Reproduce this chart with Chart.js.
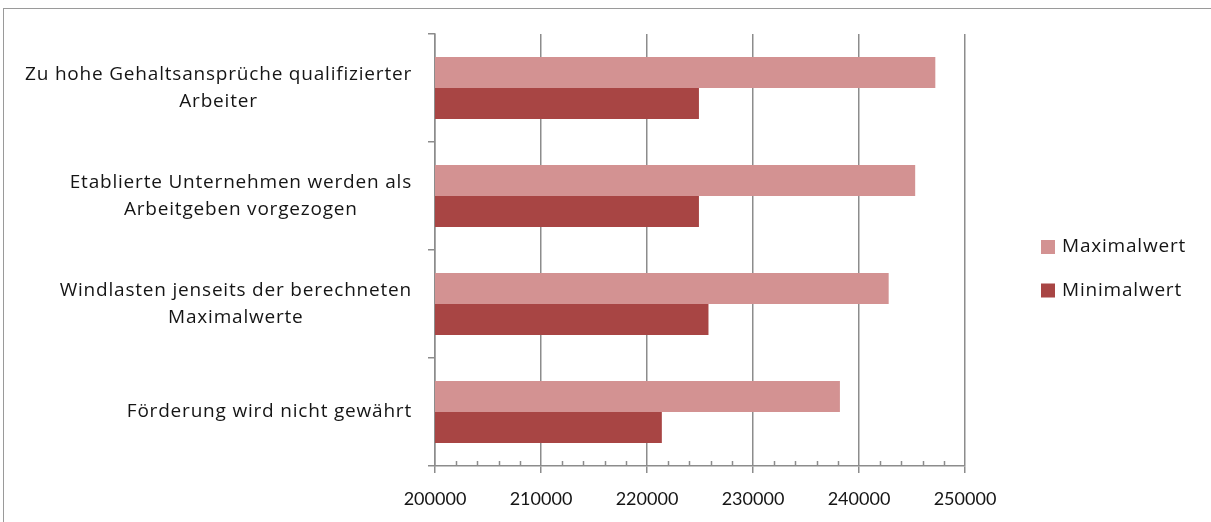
<!DOCTYPE html>
<html lang="de">
<head>
<meta charset="utf-8">
<title>Maximal- und Minimalwert</title>
<script src="https://cdn.jsdelivr.net/npm/chart.js@4.4.1/dist/chart.umd.min.js"></script>
<style>
  html, body { margin: 0; padding: 0; background: #fff; overflow: hidden; }
  #frame {
    position: absolute; left: 3px; top: 8px; width: 1230px; height: 540px;
    border: 1px solid #9a9a9a; box-sizing: border-box;
  }
  #wrap { position: absolute; left: 0; top: 0; width: 1211px; height: 522px; }
</style>
</head>
<body>
<div id="frame"></div>
<div id="wrap"><canvas id="barChart"></canvas></div>
<script>
const categories = [
    ['Zu hohe Gehaltsansprüche qualifizierter', 'Arbeiter'],
    ['Etablierte Unternehmen werden als', 'Arbeitgeben vorgezogen'],
    ['Windlasten jenseits der berechneten', 'Maximalwerte'],
    ['Förderung wird nicht gewährt']
];
const seriesNames = ['Maximalwert', 'Minimalwert'];
const maxValues = [247200, 245300, 242800, 238200];
const minValues = [224900, 224900, 225800, 221400];
const axisMin = 200000;
const axisMax = 250000;
const axisStep = 10000;
const minorStep = 2000;

const gridGrey = '#8c8c8c';
const textColor = '#151515';
const tickFont = 'Lato, "Open Sans", sans-serif';
const labelFont = '"Open Sans", Lato, sans-serif';
const labelSpacing = '0.8px';

// category labels: right-aligned block, lines centred inside the block
const categoryLabels = {
    id: 'categoryLabels',
    afterDraw(chart) {
        const ctx = chart.ctx;
        const yScale = chart.scales.y;
        const rightEdge = chart.chartArea.left - 23;
        const lineHeight = 27;
        ctx.save();
        ctx.font = '19px ' + labelFont;
        ctx.letterSpacing = labelSpacing;
        ctx.fillStyle = textColor;
        ctx.textAlign = 'center';
        ctx.textBaseline = 'middle';
        chart.data.labels.forEach((lines, i) => {
            const y = yScale.getPixelForValue(i);
            const widest = Math.max(...lines.map(l => ctx.measureText(l).width));
            const cx = rightEdge - widest / 2;
            const top = y - (lines.length - 1) * lineHeight / 2;
            lines.forEach((line, j) => ctx.fillText(line, cx, top + j * lineHeight));
        });
        ctx.restore();
    }
};

// small upward ticks between the major x ticks
const minorTicks = {
    id: 'minorTicks',
    afterDraw(chart) {
        const ctx = chart.ctx;
        const xScale = chart.scales.x;
        const bottom = chart.chartArea.bottom;
        ctx.save();
        ctx.strokeStyle = gridGrey;
        ctx.lineWidth = 1.5;
        for (let v = axisMin; v <= axisMax; v += minorStep) {
            if (v % axisStep === 0) continue;
            const x = Math.round(xScale.getPixelForValue(v)) + 0.5;
            ctx.beginPath();
            ctx.moveTo(x, bottom);
            ctx.lineTo(x, bottom - 5);
            ctx.stroke();
        }
        ctx.restore();
    }
};

// legend to the right of the plot
const sideLegend = {
    id: 'sideLegend',
    afterDraw(chart) {
        const ctx = chart.ctx;
        const boxX = 1041;
        const firstY = 247;
        const gap = 43.5;
        ctx.save();
        ctx.font = '19px ' + labelFont;
        ctx.letterSpacing = labelSpacing;
        ctx.textAlign = 'left';
        ctx.textBaseline = 'middle';
        chart.data.datasets.forEach((ds, i) => {
            const y = firstY + i * gap;
            ctx.fillStyle = ds.backgroundColor;
            ctx.fillRect(boxX, y - 7, 14, 14);
            ctx.fillStyle = textColor;
            ctx.fillText(ds.label, boxX + 21, y);
        });
        ctx.restore();
    }
};

const chartData = {
    labels: categories,
    datasets: [
        {
            label: seriesNames[0],
            data: maxValues,
            backgroundColor: '#d39292',
            borderWidth: 0
        },
        {
            label: seriesNames[1],
            data: minValues,
            backgroundColor: '#a84544',
            borderWidth: 0
        }
    ]
};

const chartOptions = {
    indexAxis: 'y',
    responsive: true,
    maintainAspectRatio: false,
    animation: false,
    categoryPercentage: 0.575,
    barPercentage: 1.0,
    layout: {
        padding: { top: 34, right: 246, bottom: 0, left: 0 }
    },
    plugins: {
        legend: { display: false },
        tooltip: { enabled: false }
    },
    scales: {
        x: {
            type: 'linear',
            min: axisMin,
            max: axisMax,
            afterFit(scale) { scale.height = 56; },
            ticks: {
                stepSize: axisStep,
                padding: 15,
                color: textColor,
                font: { family: tickFont, size: 18 },
                callback: v => String(v)
            },
            grid: {
                color: gridGrey,
                lineWidth: 1.5,
                tickLength: 7
            },
            border: { color: gridGrey, width: 1.5 }
        },
        y: {
            type: 'category',
            offset: true,
            afterFit(scale) { scale.width = 435; },
            ticks: { display: false },
            grid: {
                offset: true,
                drawOnChartArea: false,
                color: gridGrey,
                lineWidth: 1.5,
                tickLength: 7
            },
            border: { color: gridGrey, width: 1.5 }
        }
    }
};

const barChart = new Chart(document.getElementById('barChart'), {
    type: 'bar',
    data: chartData,
    options: chartOptions,
    plugins: [categoryLabels, minorTicks, sideLegend]
});
</script>
</body>
</html>
